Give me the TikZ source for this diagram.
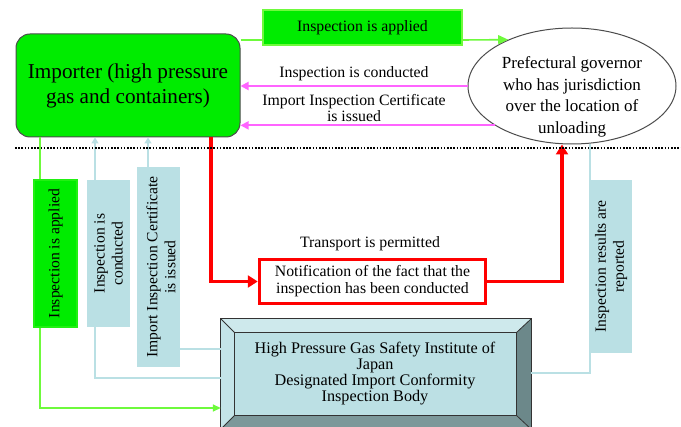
\documentclass[tikz,border=0pt]{standalone}
\usepackage{fontspec}
\setmainfont{Liberation Serif}
\usetikzlibrary{shapes.geometric,arrows.meta}
\definecolor{impgreen}{RGB}{0,236,0}
\definecolor{linegreen}{RGB}{110,250,60}
\definecolor{pinkline}{RGB}{255,100,255}
\definecolor{lblue}{RGB}{186,224,228}
\definecolor{bodyface}{RGB}{188,224,228}
\definecolor{beveltop}{RGB}{206,233,236}
\definecolor{bevelleft}{RGB}{196,228,232}
\definecolor{bevelright}{RGB}{108,136,138}
\definecolor{bevelbot}{RGB}{124,152,154}
\begin{document}
\begin{tikzpicture}[x=1pt,y=-1pt,
  gbox/.style={draw=linegreen,line width=1.5pt,fill=impgreen,inner sep=0pt},
  bbox/.style={fill=lblue,inner sep=0pt},
  gline/.style={draw=linegreen,line width=1.6pt},
  bline/.style={draw=lblue,line width=1.6pt},
  pline/.style={draw=pinkline,line width=1.8pt,-{Triangle[length=8pt,width=8pt]}},
  rline/.style={draw=red,line width=3.5pt},
  lab/.style={font=\fontsize{15.8}{16.5}\selectfont,align=center,inner sep=0pt},
  vlab/.style={font=\fontsize{15.6}{18}\selectfont,align=center,inner sep=0pt,rotate=90}]
\useasboundingbox[fill=white] (0,0) rectangle (681,427);

% Importer and governor
\node[draw=black!70,line width=1pt,fill=impgreen,rounded corners=14pt,minimum width=224,minimum height=103,
  align=center,font=\fontsize{21.2}{25}\selectfont] (imp) at (128,85.5) {Importer (high pressure\\gas and containers)};
\node[draw=black!70,line width=1pt,fill=white,ellipse,minimum width=208,minimum height=116] (gov) at (572,86) {};
\node[align=center,inner sep=0pt,font=\fontsize{17}{21.5}\selectfont] (govtxt) at (572,97) {Prefectural governor\\who has jurisdiction\\over the location of\\unloading};

% Top flows
\coordinate (gy0) at (0,40);
\node[gbox,minimum width=199,minimum height=35,lab] (topapp) at (362.5,27.5) {Inspection is applied};
\draw[gline] (imp.east |- gy0) -- (topapp.west |- gy0);
\draw[gline,-{Triangle[length=10pt,width=9pt]}] (topapp.east |- gy0) -- (gov.144);
\draw[pline] (gov.west) -- (gov.west -| imp.east);
\node[lab] (condlab) at (354,74) {Inspection is conducted};
\draw[pline] (gov.207) -- (gov.207 -| imp.east);
\node[lab] (certlab) at (354,108) {Import Inspection Certificate\\is issued};

% Lower boxes
\node[gbox,draw=impgreen!70!linegreen,minimum width=43,minimum height=147] (app) at (55.5,253.5) {};
\node[vlab] (apptxt) at (app) {Inspection is applied};
\node[bbox,minimum width=43,minimum height=147] (cond) at (108.5,253.5) {};
\node[vlab] (condtxt) at (cond) {Inspection is\\conducted};
\node[bbox,minimum width=43,minimum height=200] (cert) at (158.5,267) {};
\node[vlab] (certtxt) at (161,267) {Import Inspection Certificate\\is issued};
\node[bbox,minimum width=42,minimum height=173] (res) at (611,266.5) {};
\node[vlab] (restxt) at (res) {Inspection results are\\reported};

% Notification
\node[draw=red,line width=3.5pt,fill=white,minimum width=226,minimum height=44,lab,font=\fontsize{15.8}{17}\selectfont] (note) at (372.5,281.5) {Notification of the fact that the\\inspection has been conducted};
\node[lab] (translab) at (370,244) {Transport is permitted};
\coordinate (rx1) at (211,0);
\coordinate (rx2) at (562,0);
\draw[rline,-{Triangle[length=10pt,width=12pt]}] (imp.south -| rx1) |- (note.west);
\draw[rline,-{Triangle[length=10pt,width=12pt]}] (note.east) -| (rx2 |- gov.south);

% Inspection body (bevelled box)
\node[minimum width=310,minimum height=110,inner sep=0pt] (body) at (376,374) {};
\node[minimum width=281,minimum height=82,inner sep=0pt] (bodyin) at (375.5,374) {};
\fill[bodyface] (bodyin.north west) rectangle (bodyin.south east);
\fill[beveltop] (body.north west) -- (body.north east) -- (bodyin.north east) -- (bodyin.north west) -- cycle;
\fill[bevelleft] (body.north west) -- (bodyin.north west) -- (bodyin.south west) -- (body.south west) -- cycle;
\fill[bevelright] (body.north east) -- (bodyin.north east) -- (bodyin.south east) -- (body.south east) -- cycle;
\fill[bevelbot] (body.south west) -- (bodyin.south west) -- (bodyin.south east) -- (body.south east) -- cycle;
\draw[black!80,line width=1pt] (body.north west) rectangle (body.south east);
\draw[black!80,line width=1pt] (bodyin.north west) rectangle (bodyin.south east);
\draw[black!80,line width=0.8pt] (body.north west) -- (bodyin.north west) (body.north east) -- (bodyin.north east)
  (body.south west) -- (bodyin.south west) (body.south east) -- (bodyin.south east);
\node[lab,font=\fontsize{16.2}{15.7}\selectfont] (bodytxt) at (375,373.5) {High Pressure Gas Safety Institute of\\Japan\\Designated Import Conformity\\Inspection Body};

% Connectors to the body
\coordinate (gx) at (40,0);
\coordinate (bx) at (95,0);
\coordinate (cx) at (148,0);
\coordinate (gy) at (0,408);
\coordinate (by) at (0,378);
\coordinate (cy) at (0,349);
\coordinate (ry) at (0,373);
\coordinate (rsx) at (590,0);
\draw[gline] (imp.south -| gx) -- (app.north -| gx);
\draw[gline,-{Triangle[length=8pt,width=7pt]}] (app.south -| gx) |- (body.west |- gy);
\draw[bline,-{Triangle[length=6pt,width=7pt]}] (cond.north -| bx) -- (imp.south -| bx);
\draw[bline] (cond.south -| bx) |- (body.west |- by);
\draw[bline,-{Triangle[length=6pt,width=7pt]}] (cert.north -| cx) -- (imp.south -| cx);
\draw[bline] (cert.east |- cy) -- (body.west |- cy);
\draw[bline] (body.east |- ry) -| (rsx |- gov.-72);

% Divider
\draw[black,line width=2pt,dash pattern=on 1.6pt off 1.6pt] (15,148) -- (681,148);
\end{tikzpicture}
\end{document}
